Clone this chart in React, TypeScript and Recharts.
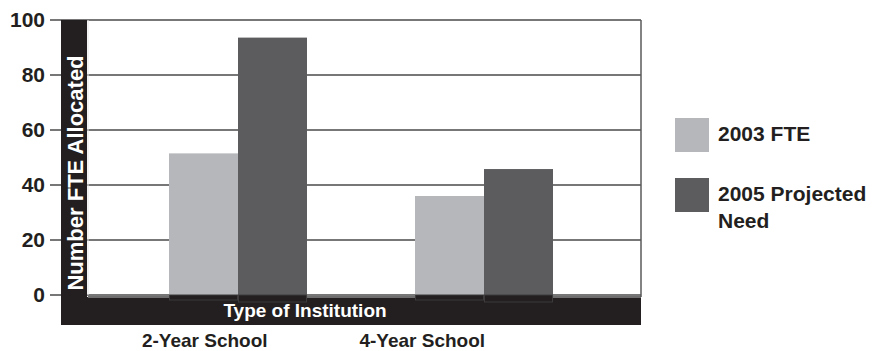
import React from "react"
import { Bar, BarChart, CartesianGrid, Customized, Legend, XAxis, YAxis } from "recharts"

const institutions = ["2-Year School", "4-Year School"]
const fte2003 = [51.5, 36]
const need2005 = [93.6, 45.8]
const yTicks = [0, 20, 40, 60, 80, 100]

const INK = "#231f20"
const LIGHT = "#b6b7ba"
const DARK = "#5c5c5e"
const FONT = "'Liberation Sans', Arial, Helvetica, sans-serif"

const data = institutions.map((name, i) => ({
  name,
  fte2003: fte2003[i],
  need2005: need2005[i],
}))

// plot box: x 50..641, y 20..295
const PLOT = { left: 50, right: 641, top: 20, bottom: 295 }

// bar with a short dark foot that sinks into the axis band
function FootedBar(props: any) {
  const { x, y, width, height, fill, foot } = props
  if (!width || height == null) return null
  return (
    <g>
      <rect x={x} y={y} width={width} height={height} fill={fill} />
      <rect
        x={x + 0.5}
        y={y + height}
        width={width - 1}
        height={foot}
        fill={INK}
        stroke="#3d3b3c"
        strokeWidth={1}
      />
    </g>
  )
}

// dark title bands along the left and bottom of the plot
function AxisBands() {
  return (
    <g>
      <rect x={61} y={PLOT.top} width={26} height={PLOT.bottom - PLOT.top + 2} fill={INK} />
      <line x1={88} x2={88} y1={PLOT.top} y2={PLOT.bottom} stroke="#e6e6e6" strokeWidth={1} />
      <rect x={61} y={297} width={PLOT.right - 61} height={28} fill={INK} />
      <line x1={88} x2={PLOT.right} y1={297} y2={297} stroke="#6e6e6e" strokeWidth={2} />
      <line
        x1={PLOT.right}
        x2={PLOT.right}
        y1={PLOT.top}
        y2={297}
        stroke="#5a5a5a"
        strokeWidth={1.5}
      />
      <text
        transform="translate(75,173) rotate(-90)"
        textAnchor="middle"
        dy="0.35em"
        fill="#ffffff"
        fontFamily={FONT}
        fontWeight={700}
        fontSize={22}
      >
        Number FTE Allocated
      </text>
      <text
        x={305}
        y={317}
        textAnchor="middle"
        fill="#ffffff"
        fontFamily={FONT}
        fontWeight={700}
        fontSize={19}
      >
        Type of Institution
      </text>
    </g>
  )
}

function LegendBox({ payload }: any) {
  return (
    <div style={{ fontFamily: FONT }}>
      {(payload ?? []).map((entry: any) => (
        <div
          key={entry.value}
          style={{ display: "flex", alignItems: "flex-start", marginBottom: 26 }}
        >
          <div style={{ width: 34, height: 34, background: entry.color, flexShrink: 0 }} />
          <div
            style={{
              marginLeft: 9,
              marginTop: 2,
              width: 154,
              fontSize: 21,
              fontWeight: 700,
              lineHeight: "27px",
              color: INK,
            }}
          >
            {entry.value}
          </div>
        </div>
      ))}
    </div>
  )
}

export default function App() {
  return (
    <div
      style={{
        position: "absolute",
        left: 0,
        top: 0,
        width: 872,
        height: 351,
        background: "#ffffff",
        fontFamily: FONT,
      }}
    >
      <BarChart
        width={872}
        height={351}
        data={data}
        barGap={0}
        margin={{ top: PLOT.top, right: 872 - PLOT.right, bottom: 0, left: 0 }}
      >
        <CartesianGrid
          xAxisId="bars"
          vertical={false}
          stroke="#4a4a4a"
          strokeWidth={1.3}
        />
        <XAxis
          xAxisId="bars"
          dataKey="name"
          hide
          height={0}
          padding={{ left: 65, right: 34 }}
        />
        <XAxis
          xAxisId="labels"
          dataKey="name"
          height={351 - PLOT.bottom}
          padding={{ left: 46, right: 110 }}
          axisLine={false}
          tickLine={false}
          tickSize={0}
          tickMargin={39}
          tick={{ fill: INK, fontSize: 19, fontWeight: 700, fontFamily: FONT }}
          interval={0}
        />
        <YAxis
          domain={[0, 100]}
          ticks={yTicks}
          width={PLOT.left}
          axisLine={false}
          tickLine={false}
          tickSize={0}
          tickMargin={5}
          tick={{ fill: INK, fontSize: 21, fontWeight: 700, fontFamily: FONT }}
        />
        <Customized component={AxisBands} />
        <Legend
          layout="vertical"
          align="center"
          verticalAlign="middle"
          wrapperStyle={{ left: 675, top: 118, width: 197 }}
          content={<LegendBox />}
        />
        <Bar
          xAxisId="bars"
          dataKey="fte2003"
          name="2003 FTE"
          fill={LIGHT}
          barSize={69}
          shape={<FootedBar foot={5} />}
          isAnimationActive={false}
        />
        <Bar
          xAxisId="bars"
          dataKey="need2005"
          name="2005 Projected Need"
          fill={DARK}
          barSize={69}
          shape={<FootedBar foot={7} />}
          isAnimationActive={false}
        />
      </BarChart>
    </div>
  )
}
